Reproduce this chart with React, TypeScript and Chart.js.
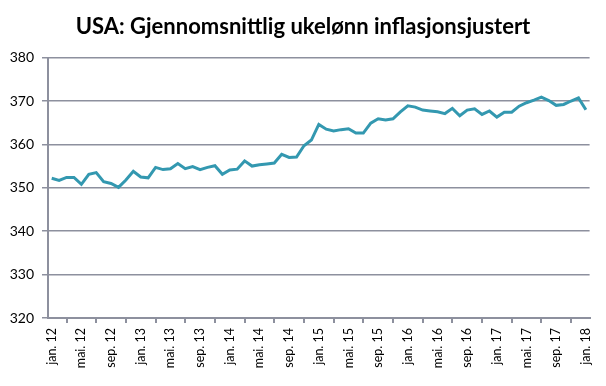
import React, { useEffect, useRef } from "react";
import { Chart, registerables } from "chart.js";

Chart.register(...registerables);

const monthNames = ["jan.", "feb.", "mar.", "apr.", "mai.", "jun.", "jul.", "aug.", "sep.", "okt.", "nov.", "des."];
const years = ["12", "13", "14", "15", "16", "17", "18"];
const categories: string[] = [];
years.forEach((y, yi) => {
  monthNames.forEach((m, mi) => {
    if (yi === years.length - 1 && mi > 0) return;
    categories.push(m + " " + y);
  });
});

const weeklyEarnings = [
  352.2, 351.7, 352.4, 352.4, 350.8, 353.1, 353.5, 351.4, 351.0, 350.1, 351.8, 353.8,
  352.5, 352.3, 354.7, 354.2, 354.4, 355.6, 354.4, 354.9, 354.2, 354.7, 355.1, 353.1,
  354.1, 354.3, 356.2, 355.0, 355.3, 355.5, 355.7, 357.7, 357.0, 357.1, 359.7, 361.0,
  364.6, 363.5, 363.1, 363.4, 363.6, 362.6, 362.6, 364.9, 365.9, 365.6, 365.9, 367.5,
  368.9, 368.6, 367.9, 367.7, 367.5, 367.1, 368.3, 366.6, 367.9, 368.2, 366.9, 367.7,
  366.3, 367.4, 367.4, 368.8, 369.6, 370.2, 370.9, 370.1, 369.0, 369.2, 370.0, 370.7,
  368.0,
];

const yMin = 320;
const yMax = 380;
const yStep = 10;
const labelEvery = 4;
const title = "USA: Gjennomsnittlig ukelønn inflasjonsjustert";

const FONT = "Lato, 'Open Sans', sans-serif";
const GRID = "#8d909e";

export default function App() {
  const ref = useRef<HTMLCanvasElement | null>(null);

  useEffect(() => {
    document.body.style.margin = "0";
    if (!ref.current) return;
    const chart = new Chart(ref.current, {
      type: "line",
      data: {
        labels: categories,
        datasets: [
          {
            data: weeklyEarnings,
            borderColor: "#3398b0",
            borderWidth: 3,
            pointRadius: 0,
            tension: 0,
            fill: false,
          },
        ],
      },
      options: {
        animation: false,
        responsive: false,
        maintainAspectRatio: false,
        layout: { padding: 0 },
        plugins: {
          legend: { display: false },
          tooltip: { enabled: false },
          title: {
            display: true,
            text: title,
            color: "#000",
            font: { family: FONT, size: 22, weight: "bold", lineHeight: 1.2 },
            padding: { top: 14, bottom: 17.2 },
          },
        },
        scales: {
          x: {
            offset: true,
            afterFit: (axis: any) => {
              axis.height = 68;
            },
            border: { display: true, color: GRID, width: 2 },
            grid: {
              display: true,
              offset: true,
              drawOnChartArea: false,
              drawTicks: true,
              tickLength: 5,
              color: GRID,
              lineWidth: 2,
            },
            ticks: {
              autoSkip: false,
              maxRotation: 90,
              minRotation: 90,
              padding: 5,
              color: "#000",
              font: { family: FONT, size: 12.5 },
              callback: (_v: any, i: number) => (i % labelEvery === 0 ? categories[i] : null),
            },
          },
          y: {
            min: yMin,
            max: yMax,
            afterFit: (axis: any) => {
              axis.width = 48;
            },
            border: { display: true, color: GRID, width: 2 },
            grid: {
              display: true,
              drawOnChartArea: true,
              drawTicks: true,
              tickLength: 6,
              color: GRID,
              lineWidth: 1.5,
            },
            ticks: {
              stepSize: yStep,
              padding: 8,
              color: "#000",
              font: { family: FONT, size: 14 },
            },
          },
          spacer: {
            type: "linear",
            position: "right",
            afterFit: (axis: any) => {
              axis.width = 16;
            },
            border: { display: false },
            grid: { display: false, drawTicks: false },
            ticks: { display: false },
          },
        },
      },
    });
    return () => chart.destroy();
  }, []);

  return (
    <div style={{ width: 606, height: 386, background: "#fff" }}>
      <canvas ref={ref} width={606} height={386} style={{ display: "block" }} />
    </div>
  );
}
